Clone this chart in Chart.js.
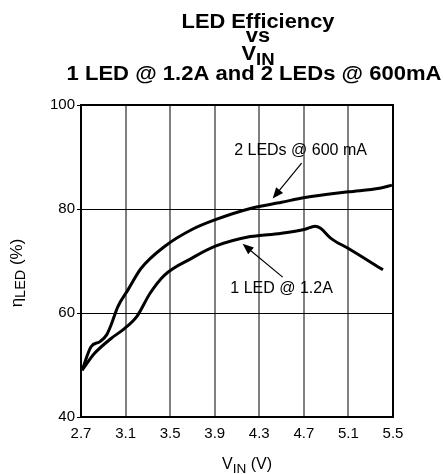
<!DOCTYPE html>
<html>
<head>
<meta charset="utf-8">
<script src="https://cdn.jsdelivr.net/npm/chart.js@4"></script>
<style>
  html, body { margin: 0; padding: 0; background: #fff; }
  #wrap { width: 443px; height: 474px; }
</style>
</head>
<body>
<div id="wrap"><canvas id="effChart" width="443" height="474"></canvas></div>
<script>
// data
const xTicks = [2.7, 3.1, 3.5, 3.9, 4.3, 4.7, 5.1, 5.5];
const yTicks = [40, 60, 80, 100];

const twoLedVin = [2.71, 2.79, 2.87, 2.93, 2.97, 3.03, 3.12, 3.24, 3.45, 3.7, 3.9, 4.22, 4.5, 4.71, 5.1, 5.38, 5.49];
const twoLedEff = [49, 53.5, 54.5, 55.8, 57.7, 61.2, 64.4, 68.6, 72.8, 76.1, 77.9, 80.1, 81.3, 82.2, 83.3, 84, 84.6];

const oneLedVin = [2.71, 2.82, 2.97, 3.09, 3.2, 3.32, 3.45, 3.7, 3.9, 4.22, 4.49, 4.71, 4.8, 4.85, 4.94, 5.1, 5.41];
const oneLedEff = [49, 52.2, 55.1, 57, 59.3, 63.8, 67.3, 70.6, 72.8, 74.7, 75.3, 76.1, 76.7, 76.3, 74.4, 72.4, 68.3];

// callouts: text centre, arrow tail, arrow tip (data units)
const callouts = [
  { text: "2 LEDs @ 600 mA", tx: 4.67, ty: 91.2, x0: 4.68, y0: 88.8, x1: 4.42, y1: 82.0 },
  { text: "1 LED @ 1.2A", tx: 4.5, ty: 64.6, x0: 4.51, y0: 66.9, x1: 4.15, y1: 73.3 }
];

const FONT = "'Liberation Sans', Arial, sans-serif";

function toPoints(xs, ys) {
  return xs.map((x, i) => ({ x: x, y: ys[i] }));
}

// draws text with a subscript part, optionally stretched sideways
function drawSub(ctx, parts, cx, cy, size, bold, stretch) {
  const k = stretch || 1;
  const w = parts.reduce((s, p) => {
    ctx.font = (bold ? "bold " : "") + (p.sub ? size * 0.85 : size) + "px " + FONT;
    return s + ctx.measureText(p.t).width;
  }, 0);
  ctx.save();
  ctx.translate(cx, cy);
  ctx.scale(k, 1);
  let x = -w / 2;
  parts.forEach(p => {
    ctx.font = (bold ? "bold " : "") + (p.sub ? size * 0.85 : size) + "px " + FONT;
    ctx.fillText(p.t, x, p.sub ? size * 0.25 : 0);
    x += ctx.measureText(p.t).width;
  });
  ctx.restore();
}

const decorations = {
  id: "decorations",
  afterDraw(chart) {
    const ctx = chart.ctx;
    const a = chart.chartArea;
    const xs = chart.scales.x, ys = chart.scales.y;
    ctx.save();

    // frame
    ctx.strokeStyle = "#000";
    ctx.lineWidth = 2;
    ctx.strokeRect(a.left, a.top, a.right - a.left, a.bottom - a.top);

    // title
    ctx.fillStyle = "#000";
    ctx.textBaseline = "alphabetic";
    ctx.textAlign = "left";
    drawSub(ctx, [{ t: "LED Efficiency" }], 258, 28, 19.5, true, 1.12);
    drawSub(ctx, [{ t: "vs" }], 258, 42, 19.5, true, 1.12);
    drawSub(ctx, [{ t: "V" }, { t: "IN", sub: true }], 258, 60, 19.5, true, 1.12);
    drawSub(ctx, [{ t: "1 LED @ 1.2A and 2 LEDs @ 600mA" }], 254, 80, 19.5, true, 1.13);

    // axis titles
    ctx.textBaseline = "middle";
    drawSub(ctx, [{ t: "V" }, { t: "IN", sub: true }, { t: " (V)" }], 247, 465, 16, false);
    ctx.save();
    ctx.translate(19, 273);
    ctx.rotate(-Math.PI / 2);
    drawSub(ctx, [{ t: "\u03B7" }, { t: "LED", sub: true }, { t: " (%)" }], 0, -2, 17, false);
    ctx.restore();

    // callouts
    callouts.forEach(c => {
      ctx.font = "16px " + FONT;
      ctx.textAlign = "center";
      ctx.textBaseline = "middle";
      ctx.fillText(c.text, xs.getPixelForValue(c.tx), ys.getPixelForValue(c.ty));
      const x0 = xs.getPixelForValue(c.x0), y0 = ys.getPixelForValue(c.y0);
      const x1 = xs.getPixelForValue(c.x1), y1 = ys.getPixelForValue(c.y1);
      const ang = Math.atan2(y1 - y0, x1 - x0);
      ctx.strokeStyle = "#000";
      ctx.lineWidth = 1.2;
      ctx.beginPath();
      ctx.moveTo(x0, y0);
      ctx.lineTo(x1 - 8 * Math.cos(ang), y1 - 8 * Math.sin(ang));
      ctx.stroke();
      ctx.beginPath();
      ctx.moveTo(x1, y1);
      ctx.lineTo(x1 - 11 * Math.cos(ang) + 4.5 * Math.sin(ang), y1 - 11 * Math.sin(ang) - 4.5 * Math.cos(ang));
      ctx.lineTo(x1 - 11 * Math.cos(ang) - 4.5 * Math.sin(ang), y1 - 11 * Math.sin(ang) + 4.5 * Math.cos(ang));
      ctx.closePath();
      ctx.fill();
    });
    ctx.restore();
  }
};

new Chart(document.getElementById("effChart").getContext("2d"), {
  type: "line",
  data: {
    datasets: [
      {
        label: "2 LEDs @ 600 mA",
        data: toPoints(twoLedVin, twoLedEff),
        borderColor: "#000",
        borderWidth: 3,
        pointRadius: 0,
        cubicInterpolationMode: "monotone",
        fill: false
      },
      {
        label: "1 LED @ 1.2A",
        data: toPoints(oneLedVin, oneLedEff),
        borderColor: "#000",
        borderWidth: 3,
        pointRadius: 0,
        cubicInterpolationMode: "monotone",
        fill: false
      }
    ]
  },
  options: {
    responsive: false,
    animation: false,
    layout: { padding: { top: 105, right: 50, left: 0, bottom: 0 } },
    plugins: {
      legend: { display: false },
      title: { display: false },
      tooltip: { enabled: false }
    },
    scales: {
      x: {
        type: "linear",
        min: 2.7,
        max: 5.5,
        afterBuildTicks: s => { s.ticks = xTicks.map(v => ({ value: v })); },
        afterFit: s => { s.height = 57; },
        grid: { color: "#808080", lineWidth: 2, drawTicks: false },
        border: { display: false },
        ticks: {
          color: "#000",
          padding: 8,
          font: { family: FONT, size: 15 },
          callback: v => v.toFixed(1)
        }
      },
      y: {
        min: 40,
        max: 100,
        afterBuildTicks: s => { s.ticks = yTicks.map(v => ({ value: v })); },
        afterFit: s => { s.width = 81; },
        grid: { color: "#000", lineWidth: 1, drawTicks: true, tickLength: 4 },
        border: { display: false },
        ticks: {
          color: "#000",
          padding: 2,
          font: { family: FONT, size: 15 }
        }
      }
    }
  },
  plugins: [decorations]
});
</script>
</body>
</html>
